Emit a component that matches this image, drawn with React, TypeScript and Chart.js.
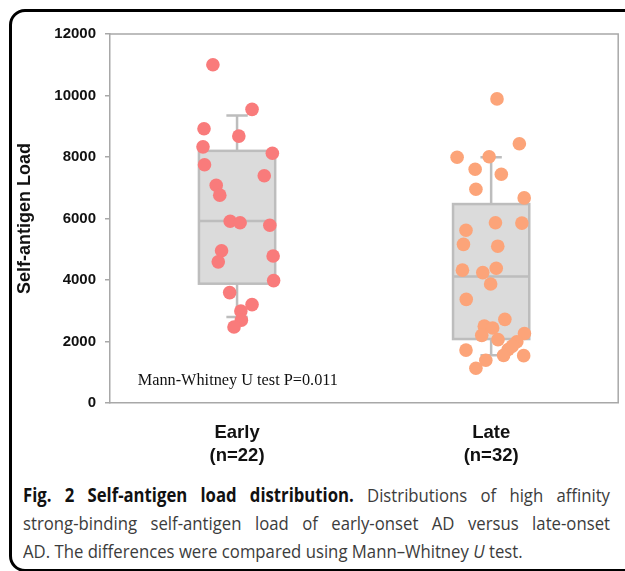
import React, { useEffect, useRef } from 'react';
import { Chart, registerables } from 'chart.js';

Chart.register(...registerables);

// ---- data ----
const categoryPositions = [0.5, 1.5];
const categoryLabels = [
  ['Early', '(n=22)'],
  ['Late', '(n=32)'],
];
const yTickValues = [0, 2000, 4000, 6000, 8000, 10000, 12000];

const earlyX = [0.405, 0.559, 0.37, 0.507, 0.366, 0.639, 0.372, 0.607, 0.418, 0.432, 0.473, 0.512, 0.629, 0.439, 0.426, 0.642, 0.644, 0.471, 0.559, 0.515, 0.517, 0.488];
const earlyY = [11000, 9550, 8920, 8680, 8330, 8120, 7750, 7390, 7080, 6760, 5910, 5860, 5780, 4950, 4590, 4780, 3980, 3590, 3200, 2990, 2690, 2470];

const lateX = [1.523, 1.611, 1.366, 1.492, 1.437, 1.54, 1.44, 1.63, 1.517, 1.621, 1.401, 1.391, 1.526, 1.387, 1.52, 1.467, 1.498, 1.402, 1.554, 1.473, 1.506, 1.463, 1.631, 1.527, 1.601, 1.401, 1.567, 1.549, 1.628, 1.479, 1.44, 1.583];
const lateY = [9890, 8430, 7990, 8010, 7600, 7440, 6950, 6670, 5860, 5850, 5620, 5160, 5100, 4320, 4380, 4240, 3870, 3370, 2720, 2500, 2440, 2200, 2260, 2060, 1990, 1720, 1740, 1550, 1540, 1390, 1130, 1850];

const boxLow = [2800, 1550];
const boxQ1 = [3880, 2080];
const boxMedian = [5920, 4110];
const boxQ3 = [8200, 6470];
const boxHigh = [9350, 7990];

const annotationText = 'Mann-Whitney U test P=0.011';
const annotationAt = { x: 0.109, y: 580 };

const yTitle = 'Self-antigen Load';

// ---- styles ----
const EARLY_COLOR = '#F97B7B';
const LATE_COLOR = '#FCA479';
const BOX_FILL = '#DBDBDB';
const BOX_LINE = '#BDBDBD';
const FRAME = '#A8A8A8';
const BOX_HALF = 0.15;
const CAP_HALF = 0.042;

const boxPlotPlugin = {
  id: 'boxPlot',
  beforeDatasetsDraw(chart: any) {
    const { ctx, scales } = chart;
    const x = scales.x;
    const y = scales.y;
    ctx.save();
    ctx.strokeStyle = BOX_LINE;
    ctx.lineWidth = 2.5;
    categoryPositions.forEach((pos, i) => {
      const cx = x.getPixelForValue(pos);
      const l = x.getPixelForValue(pos - BOX_HALF);
      const r = x.getPixelForValue(pos + BOX_HALF);
      const cl = x.getPixelForValue(pos - CAP_HALF);
      const cr = x.getPixelForValue(pos + CAP_HALF);
      const yLow = y.getPixelForValue(boxLow[i]);
      const yQ1 = y.getPixelForValue(boxQ1[i]);
      const yMed = y.getPixelForValue(boxMedian[i]);
      const yQ3 = y.getPixelForValue(boxQ3[i]);
      const yHigh = y.getPixelForValue(boxHigh[i]);
      ctx.beginPath();
      ctx.moveTo(cx, yQ3);
      ctx.lineTo(cx, yHigh);
      ctx.moveTo(cl, yHigh);
      ctx.lineTo(cr, yHigh);
      ctx.moveTo(cx, yQ1);
      ctx.lineTo(cx, yLow);
      ctx.moveTo(cl, yLow);
      ctx.lineTo(cr, yLow);
      ctx.stroke();
      ctx.fillStyle = BOX_FILL;
      ctx.fillRect(l, yQ3, r - l, yQ1 - yQ3);
      ctx.strokeRect(l, yQ3, r - l, yQ1 - yQ3);
      ctx.beginPath();
      ctx.moveTo(l, yMed);
      ctx.lineTo(r, yMed);
      ctx.stroke();
    });
    ctx.restore();
  },
  afterDraw(chart: any) {
    const { ctx, chartArea, scales } = chart;
    ctx.save();
    ctx.strokeStyle = FRAME;
    ctx.lineWidth = 1.5;
    ctx.beginPath();
    ctx.moveTo(chartArea.left, chartArea.top);
    ctx.lineTo(chartArea.right, chartArea.top);
    ctx.lineTo(chartArea.right, chartArea.bottom);
    ctx.stroke();
    ctx.fillStyle = '#111';
    ctx.font = '16.3px "Liberation Serif", "Times New Roman", serif';
    ctx.textBaseline = 'alphabetic';
    ctx.textAlign = 'left';
    ctx.fillText(
      annotationText,
      scales.x.getPixelForValue(annotationAt.x),
      scales.y.getPixelForValue(annotationAt.y)
    );
    ctx.restore();
  },
};

function ChartCanvas() {
  const ref = useRef<HTMLCanvasElement>(null);
  useEffect(() => {
    if (!ref.current) return;
    const chart = new Chart(ref.current, {
      type: 'scatter',
      data: {
        datasets: [
          {
            label: 'Early',
            data: earlyX.map((v, i) => ({ x: v, y: earlyY[i] })),
            backgroundColor: EARLY_COLOR,
            borderWidth: 0,
            pointRadius: 6.8,
          },
          {
            label: 'Late',
            data: lateX.map((v, i) => ({ x: v, y: lateY[i] })),
            backgroundColor: LATE_COLOR,
            borderWidth: 0,
            pointRadius: 6.8,
          },
        ],
      },
      options: {
        responsive: false,
        animation: false,
        devicePixelRatio: 1,
        layout: { padding: { top: 34, right: 2, bottom: 0, left: 0 } },
        plugins: {
          legend: { display: false },
          tooltip: { enabled: false },
        },
        scales: {
          x: {
            type: 'linear',
            min: 0,
            max: 2,
            afterBuildTicks: (scale: any) => {
              scale.ticks = categoryPositions.map((v) => ({ value: v }));
            },
            afterFit: (scale: any) => {
              scale.height = 77;
              scale.paddingLeft = 0;
              scale.paddingRight = 0;
            },
            ticks: {
              autoSkip: false,
              maxRotation: 0,
              padding: 18,
              color: '#111',
              font: { family: '"Liberation Sans", Arial, sans-serif', size: 18.5, weight: 'bold', lineHeight: 1.27 },
              callback: (_v: any, index: number) => categoryLabels[index],
            },
            grid: { display: true, drawOnChartArea: false, drawTicks: false, color: FRAME },
            border: { color: FRAME, width: 1.5 },
          },
          y: {
            min: 0,
            max: 12000,
            afterBuildTicks: (scale: any) => {
              scale.ticks = yTickValues.map((v) => ({ value: v }));
            },
            afterFit: (scale: any) => {
              scale.width = 110;
            },
            ticks: {
              padding: 9,
              color: '#111',
              font: { family: '"Liberation Sans", Arial, sans-serif', size: 15, weight: 'bold' },
              callback: (v: any) => String(v),
            },
            grid: { drawOnChartArea: false, drawTicks: true, tickLength: 5, color: FRAME, lineWidth: 1.5 },
            border: { color: FRAME, width: 1.5 },
            title: {
              display: true,
              text: yTitle,
              color: '#111',
              padding: { top: 14, bottom: 0 },
              font: { family: '"Liberation Sans", Arial, sans-serif', size: 18, weight: 'bold' },
            },
          },
        },
      },
      plugins: [boxPlotPlugin],
    } as any);
    return () => chart.destroy();
  }, []);
  return (
    <canvas
      ref={ref}
      width={625}
      height={480}
      style={{ position: 'absolute', left: 0, top: 0, width: 625, height: 480 }}
    />
  );
}

const SCALE_X = 0.88;
const captionJustified: React.CSSProperties = {
  textAlign: 'justify',
  textAlignLast: 'justify' as any,
  whiteSpace: 'nowrap',
  height: 28,
  lineHeight: '28px',
};

export default function App() {
  return (
    <div
      style={{
        position: 'fixed',
        left: 0,
        top: 0,
        width: 625,
        height: 571,
        overflow: 'hidden',
        background: '#fff',
      }}
    >
      <div
        style={{
          position: 'absolute',
          left: 9,
          top: 9,
          width: 700,
          height: 557,
          border: '3px solid #000',
          borderRadius: 16,
        }}
      />
      <ChartCanvas />
      <div
        style={{
          position: 'absolute',
          left: 23,
          top: 481,
          width: 587 / SCALE_X,
          transform: `scaleX(${SCALE_X})`,
          transformOrigin: 'left top',
          fontFamily: '"Open Sans", "Noto Sans", sans-serif',
          fontSize: 19,
          color: '#3c3c3c',
        }}
      >
        <div style={captionJustified}>
          <b style={{ color: '#111' }}>Fig. 2 Self-antigen load distribution.</b> Distributions of high affinity
        </div>
        <div style={captionJustified}>strong-binding self-antigen load of early-onset AD versus late-onset</div>
        <div style={{ height: 28, lineHeight: '28px', whiteSpace: 'nowrap' }}>
          AD. The differences were compared using Mann–Whitney <i>U</i> test.
        </div>
      </div>
    </div>
  );
}
